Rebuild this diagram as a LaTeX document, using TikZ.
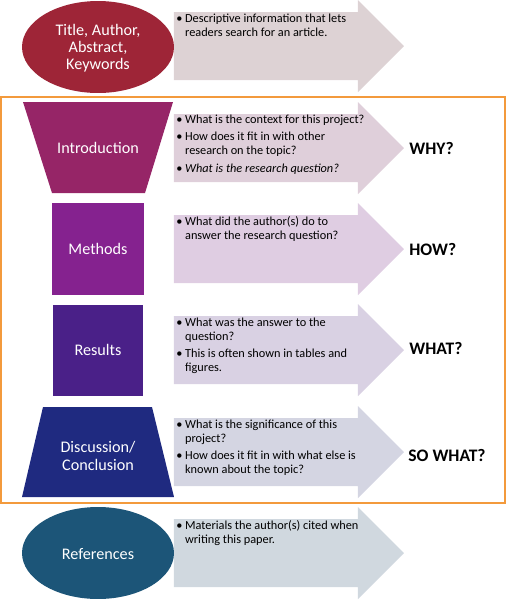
\documentclass[tikz,border=0pt]{standalone}
\usepackage{fontspec}
\setmainfont{Carlito}
\usetikzlibrary{shapes.geometric}

\definecolor{titlered}{HTML}{9E2537}
\definecolor{introcol}{HTML}{962567}
\definecolor{methcol}{HTML}{85228F}
\definecolor{rescol}{HTML}{4A2088}
\definecolor{disccol}{HTML}{1F2A80}
\definecolor{refcol}{HTML}{1C5578}
\definecolor{arrA}{HTML}{DDD2D4}
\definecolor{arrB}{HTML}{DFCFDA}
\definecolor{arrC}{HTML}{DFCDE2}
\definecolor{arrD}{HTML}{D9D1E3}
\definecolor{arrE}{HTML}{D4D5E2}
\definecolor{arrF}{HTML}{D0D8DF}
\definecolor{frameorange}{HTML}{F39A3C}

\newcommand{\bi}{\makebox[5pt][l]{\textbullet}}

\tikzset{
  lbl/.style={text=white, align=center, inner sep=0pt, font=\fontsize{9.2}{9.8}\selectfont},
  bullets/.style={anchor=north west, inner sep=0pt, font=\fontsize{7}{8}\selectfont},
  askme/.style={anchor=west, inner sep=0pt, font=\fontsize{10}{12}\selectfont\bfseries}
}

\begin{document}
\begin{tikzpicture}[x=0.02cm,y=-0.02cm]
\useasboundingbox (0,0) rectangle (506,600);
% arrows behind the text
\foreach \c/\col in {46/arrA,148/arrB,249/arrC,350/arrD,452/arrE,553/arrF}
  \fill[\col] (174,\c-34) -- (358,\c-34) -- (358,\c-46) -- (404,\c)
    -- (358,\c+46) -- (358,\c+34) -- (174,\c+34) -- cycle;
\draw[frameorange, line width=1.1pt] (1,97) rectangle (505,503);

% left shapes
\node[ellipse, fill=titlered, minimum width=3.04cm, minimum height=1.84cm, inner sep=0pt] (titleshape) at (98,47) {};
\node[lbl] (title) at (98,48) {Title, Author,\\Abstract,\\Keywords};
\fill[introcol] (23,102) -- (173,102) -- (145,193) -- (52,193) -- cycle;
\node[lbl] (intro) at (98,148) {Introduction};
\node[fill=methcol, minimum size=1.84cm, inner sep=0pt] (methshape) at (98,249) {};
\node[lbl] (methods) at (98,249) {Methods};
\node[fill=rescol, minimum size=1.82cm, inner sep=0pt] (resshape) at (98,350.5) {};
\node[lbl] (results) at (98,350) {Results};
\fill[disccol] (43,407) -- (152,407) -- (174,497) -- (22,497) -- cycle;
\node[lbl] (disc) at (98,456) {Discussion/\\Conclusion};
\node[ellipse, fill=refcol, minimum width=3.04cm, minimum height=1.84cm, inner sep=0pt] (refshape) at (98,553) {};
\node[lbl] (refs) at (98,554) {References};

% bullet texts
\node[bullets] (descA) at (176,12) {\begin{tabular}{@{}l@{}l@{}}
  \bi & Descriptive information that lets\\
      & readers search for an article.
\end{tabular}};
\node[bullets] (descB) at (176,113) {\begin{tabular}{@{}l@{}l@{}}
  \bi & What is the context for this project?\\[2pt]
  \bi & How does it fit in with other\\
      & research on the topic?\\[2pt]
  \bi & \itshape What is the research question?
\end{tabular}};
\node[bullets] (descC) at (176,215) {\begin{tabular}{@{}l@{}l@{}}
  \bi & What did the author(s) do to\\
      & answer the research question?
\end{tabular}};
\node[bullets] (descD) at (176,316) {\begin{tabular}{@{}l@{}l@{}}
  \bi & What was the answer to the\\
      & question?\\[2pt]
  \bi & This is often shown in tables and\\
      & figures.
\end{tabular}};
\node[bullets] (descE) at (176,418) {\begin{tabular}{@{}l@{}l@{}}
  \bi & What is the significance of this\\
      & project?\\[2pt]
  \bi & How does it fit in with what else is\\
      & known about the topic?
\end{tabular}};
\node[bullets] (descF) at (176,519) {\begin{tabular}{@{}l@{}l@{}}
  \bi & Materials the author(s) cited when\\
      & writing this paper.
\end{tabular}};

% questions on the right
\node[askme] (why) at (409,148) {WHY?};
\node[askme] (how) at (409,249) {HOW?};
\node[askme] (what) at (409,348) {WHAT?};
\node[askme] (sowhat) at (408,455) {SO WHAT?};
\end{tikzpicture}
\end{document}
